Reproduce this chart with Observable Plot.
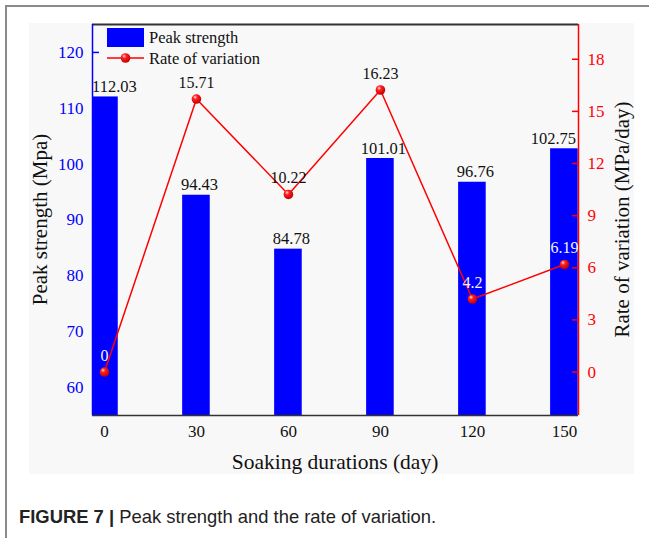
<!DOCTYPE html>
<html>
<head>
<meta charset="utf-8">
<script src="https://cdn.jsdelivr.net/npm/d3@7"></script>
<script src="https://cdn.jsdelivr.net/npm/@observablehq/plot@0.6"></script>
<style>
  html, body { margin: 0; padding: 0; background: #fff; }
  body { width: 649px; height: 538px; position: relative; overflow: hidden; }
  #border { position: absolute; left: 5px; top: 5px; width: 700px; height: 600px;
            border-top: 2px solid #8a8a8a; border-left: 2px solid #8a8a8a; }
  #chart { position: absolute; left: 29px; top: 23px; }
  #caption { position: absolute; left: 19px; top: 508px; font-family: "Liberation Sans", Arial, sans-serif;
             font-size: 18.4px; line-height: 18px; color: #222; white-space: nowrap; }
  #caption b { font-weight: bold; }
</style>
</head>
<body>
<div id="border"></div>
<div id="chart"></div>
<div id="caption"><b>FIGURE 7 |</b> Peak strength and the rate of variation.</div>
<script>
// ---- data ----
const days = [0, 30, 60, 90, 120, 150];
const peakStrength = [112.03, 94.43, 84.78, 101.01, 96.76, 102.75];
const rateOfVariation = [0, 15.71, 10.22, 16.23, 4.2, 6.19];
const leftTicks = [60, 70, 80, 90, 100, 110, 120];
const rightTicks = [0, 3, 6, 9, 12, 15, 18];
const seriesNames = ["Peak strength", "Rate of variation"];
const xLabel = "Soaking durations (day)";
const yLabel = "Peak strength (Mpa)";
const y2Label = "Rate of variation (MPa/day)";

// ---- scales ----
const xDomain = [-3.9, 154.6];
const yDomain = [55, 125];
const y2Domain = [-2.5, 20];
const toLeft = v => yDomain[0] + (v - y2Domain[0]) * (yDomain[1] - yDomain[0]) / (y2Domain[1] - y2Domain[0]);
const fromLeft = y => y2Domain[0] + (y - yDomain[0]) * (y2Domain[1] - y2Domain[0]) / (yDomain[1] - yDomain[0]);
const halfBar = 4.5;

const table = days.map((d, i) => ({day: d, peak: peakStrength[i], rate: rateOfVariation[i], i}));
const n = table.length;

const BLUE = "#0000ff", RED = "#ff0000", FONT = "Liberation Serif, Times New Roman, serif";
const W = 605, H = 451, ML = 63, MR = 56, MT = 1, MB = 59;

const barLabel = (filter, dx) => Plot.text(table, {filter, x: "day", y: "peak", text: d => d.peak.toFixed(2),
  lineAnchor: "bottom", dy: -5, dx, fontSize: 16.5, fill: "#111"});

const chart = Plot.plot({
  width: W, height: H,
  marginLeft: ML, marginRight: MR, marginTop: MT, marginBottom: MB,
  style: {background: "#f8f8f8", fontFamily: FONT, overflow: "visible"},
  x: {type: "linear", domain: xDomain},
  y: {type: "linear", domain: yDomain},
  marks: [
    Plot.rect(table, {x1: d => d.day - halfBar, x2: d => d.day + halfBar, y1: () => yDomain[0], y2: "peak", fill: BLUE, clip: true}),
    // frame lines
    Plot.ruleY([yDomain[1]], {stroke: "#333", strokeWidth: 2}),
    Plot.ruleY([yDomain[0]], {stroke: "#333", strokeWidth: 1.5}),
    Plot.ruleX([xDomain[0]], {stroke: BLUE, strokeWidth: 1.5}),
    Plot.ruleX([xDomain[1]], {stroke: RED, strokeWidth: 1.5}),
    // left axis
    Plot.axisY(leftTicks, {anchor: "left", tickSize: 0, tickPadding: 9, fontSize: 17, color: BLUE, label: null}),
    Plot.axisY(leftTicks, {anchor: "left", tickSize: -7, tickFormat: () => "", stroke: BLUE, strokeWidth: 1.5, label: null}),
    // right axis
    Plot.axisY(rightTicks.map(toLeft), {anchor: "right", tickSize: 0, tickPadding: 9, fontSize: 17, color: RED,
      tickFormat: y => String(Math.round(fromLeft(y))), label: null}),
    Plot.axisY(rightTicks.map(toLeft), {anchor: "right", tickSize: -7, tickFormat: () => "", stroke: RED, strokeWidth: 1.5, label: null}),
    // x axis
    Plot.axisX(days, {anchor: "bottom", tickSize: 0, tickPadding: 9, fontSize: 17, color: "#111", label: null}),
    // bar value labels
    barLabel(d => d.i === 0, 10),
    barLabel(d => d.i > 0 && d.i < n - 1, 3),
    barLabel(d => d.i === n - 1, -11),
    // rate line
    Plot.line(table, {x: "day", y: d => toLeft(d.rate), stroke: RED, strokeWidth: 1.5}),
    Plot.dot(table, {x: "day", y: d => toLeft(d.rate), r: 4.8, fill: "url(#ball)", stroke: "none"}),
    Plot.text(table, {x: "day", y: d => toLeft(d.rate), text: d => String(d.rate), lineAnchor: "bottom", dy: -11,
      fontSize: 16, fill: d => toLeft(d.rate) < d.peak ? "#f4f4ff" : "#111"})
  ]
});

// gradient for the ball markers
const svg = d3.select(chart);
const defs = svg.insert("defs", ":first-child");
const g = defs.append("radialGradient").attr("id", "ball").attr("cx", "40%").attr("cy", "35%").attr("r", "65%").attr("fx", "35%").attr("fy", "30%");
g.append("stop").attr("offset", "0%").attr("stop-color", "#ffd8d8");
g.append("stop").attr("offset", "35%").attr("stop-color", "#ff2020");
g.append("stop").attr("offset", "100%").attr("stop-color", "#c00000");

// axis titles
const midY = (MT + H - MB) / 2;
const titles = svg.append("g").attr("font-family", FONT).attr("font-size", 21).attr("fill", "#111").attr("text-anchor", "middle");
titles.append("text").attr("transform", `translate(${(ML + W - MR) / 2},${H - MB + 46}) `).attr("dy", "0.35em").attr("font-size", 21.5).text(xLabel);
titles.append("text").attr("transform", `translate(${ML - 52},${midY}) rotate(-90)`).attr("dy", "0.35em").text(yLabel);
titles.append("text").attr("transform", `translate(${W - MR + 44},${midY}) rotate(-90)`).attr("dy", "0.35em").text(y2Label);

// legend (inside plot area, top-left)
const lg = svg.append("g").attr("font-family", FONT).attr("font-size", 16.5).attr("fill", "#111").attr("text-anchor", "start");
lg.append("rect").attr("x", ML + 15).attr("y", MT + 4).attr("width", 37).attr("height", 19).attr("fill", BLUE);
lg.append("text").attr("x", ML + 57).attr("y", MT + 19).text(seriesNames[0]);
lg.append("line").attr("x1", ML + 15).attr("x2", ML + 52).attr("y1", MT + 34).attr("y2", MT + 34).attr("stroke", RED).attr("stroke-width", 1.5);
lg.append("circle").attr("cx", ML + 33.5).attr("cy", MT + 34).attr("r", 4.8).attr("fill", "url(#ball)");
lg.append("text").attr("x", ML + 57).attr("y", MT + 40).text(seriesNames[1]);

document.getElementById("chart").appendChild(chart);
</script>
</body>
</html>
